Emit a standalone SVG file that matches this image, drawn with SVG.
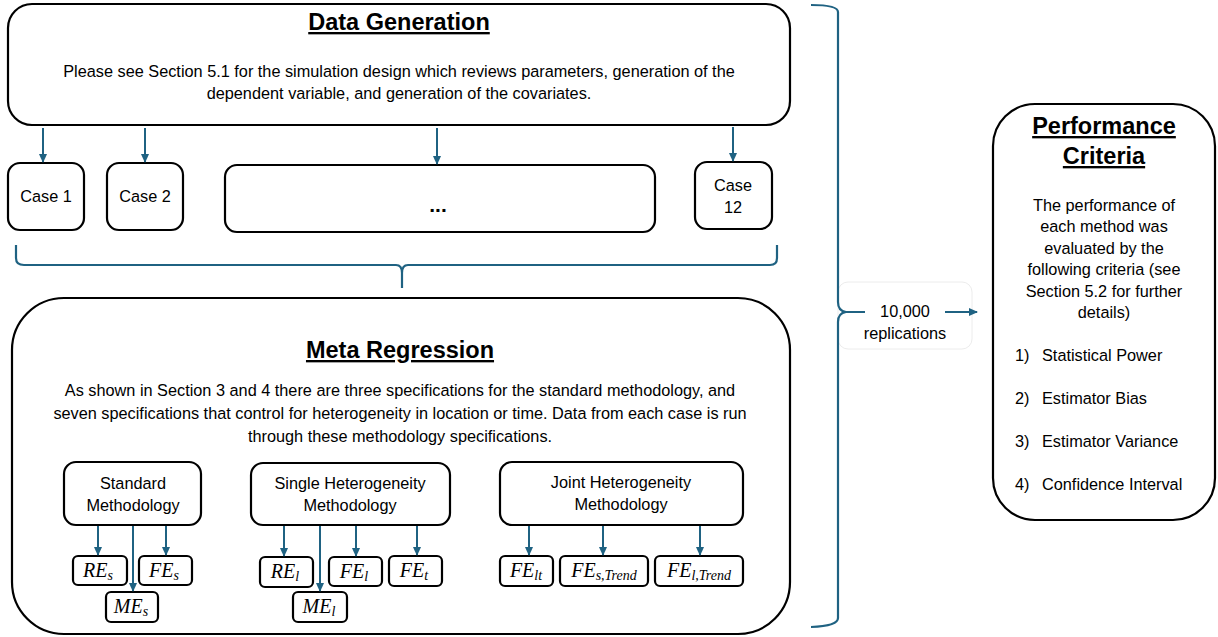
<svg xmlns="http://www.w3.org/2000/svg" width="1218" height="637" viewBox="0 0 1218 637">
<defs>
<style>
.box{fill:#fff;stroke:#000;stroke-width:2.2}
.t{font-family:"Liberation Sans",Arial,sans-serif;font-size:16.3px;fill:#000;text-anchor:middle}
.h{font-family:"Liberation Sans",Arial,sans-serif;font-size:23.5px;font-weight:bold;fill:#000;text-anchor:middle;text-decoration:underline}
.m{font-family:"Liberation Serif","Times New Roman",serif;font-style:italic;font-size:20px;fill:#000;text-anchor:middle}
.sub{font-size:14px}
.c{stroke:#1F6282;stroke-width:2;fill:none}
.br{stroke:#1F6282;stroke-width:2.2;fill:none}
</style>
<marker id="ah" markerWidth="10" markerHeight="10" refX="8" refY="5" orient="auto" markerUnits="userSpaceOnUse">
<path d="M0,1 L9,5 L0,9 z" fill="#1F6282"/>
</marker>
</defs>
<rect width="1218" height="637" fill="#fff"/>

<g id="data-generation">
<rect class="box" x="8" y="4" width="782" height="121" rx="24"/>
<text class="h" x="399" y="30">Data Generation</text>
<text class="t" x="399" y="77">Please see Section 5.1 for the simulation design which reviews parameters, generation of the</text>
<text class="t" x="399" y="99">dependent variable, and generation of the covariates.</text>
</g>

<g id="case1"><rect class="box" x="8" y="163" width="76" height="67" rx="12"/><text class="t" x="46" y="202">Case 1</text></g>
<g id="case2"><rect class="box" x="107" y="163" width="76" height="67" rx="12"/><text class="t" x="145" y="202">Case 2</text></g>
<g id="case-dots"><rect class="box" x="225" y="165" width="430" height="67" rx="12"/><text class="t" x="438" y="212" style="font-size:21px;font-weight:bold">...</text></g>
<g id="case12"><rect class="box" x="695" y="162" width="77" height="67" rx="12"/><text class="t" x="733" y="191">Case</text><text class="t" x="733" y="213">12</text></g>

<g id="meta-regression">
<rect class="box" x="12" y="298" width="778" height="336" rx="52"/>
<text class="h" x="400" y="358">Meta Regression</text>
<text class="t" x="400" y="396">As shown in Section 3 and 4 there are three specifications for the standard methodology, and</text>
<text class="t" x="400" y="419">seven specifications that control for heterogeneity in location or time. Data from each case is run</text>
<text class="t" x="400" y="442">through these methodology specifications.</text>
</g>

<g id="standard"><rect class="box" x="64" y="462" width="137" height="63" rx="12"/><text class="t" x="133" y="489">Standard</text><text class="t" x="133" y="511">Methodology</text></g>
<g id="single"><rect class="box" x="251" y="463" width="199" height="62" rx="12"/><text class="t" x="350" y="489">Single Heterogeneity</text><text class="t" x="350" y="511">Methodology</text></g>
<g id="joint"><rect class="box" x="500" y="462" width="243" height="63" rx="12"/><text class="t" x="621" y="488">Joint Heterogeneity</text><text class="t" x="621" y="510">Methodology</text></g>

<g id="re-s"><rect class="box" x="73" y="556" width="54" height="29" rx="5"/><text class="m" x="98" y="577">RE<tspan class="sub" dy="3">s</tspan></text></g>
<g id="fe-s"><rect class="box" x="139" y="556" width="53" height="29" rx="5"/><text class="m" x="164" y="577">FE<tspan class="sub" dy="3">s</tspan></text></g>
<g id="me-s"><rect class="box" x="106" y="592" width="52" height="30" rx="5"/><text class="m" x="131" y="613">ME<tspan class="sub" dy="3">s</tspan></text></g>

<g id="re-l"><rect class="box" x="260" y="557" width="53" height="30" rx="5"/><text class="m" x="285" y="578">RE<tspan class="sub" dy="3">l</tspan></text></g>
<g id="fe-l"><rect class="box" x="329" y="557" width="53" height="29" rx="5"/><text class="m" x="354" y="578">FE<tspan class="sub" dy="3">l</tspan></text></g>
<g id="fe-t"><rect class="box" x="389" y="556" width="53" height="30" rx="5"/><text class="m" x="414" y="577">FE<tspan class="sub" dy="3">t</tspan></text></g>
<g id="me-l"><rect class="box" x="293" y="592" width="54" height="30" rx="5"/><text class="m" x="319" y="613">ME<tspan class="sub" dy="3">l</tspan></text></g>

<g id="fe-lt"><rect class="box" x="500" y="556" width="53" height="30" rx="5"/><text class="m" x="526" y="577">FE<tspan class="sub" dy="3">lt</tspan></text></g>
<g id="fe-s-trend"><rect class="box" x="560" y="556" width="88" height="30" rx="5"/><text class="m" x="604" y="577">FE<tspan class="sub" dy="3">s,Trend</tspan></text></g>
<g id="fe-l-trend"><rect class="box" x="655" y="556" width="88" height="30" rx="5"/><text class="m" x="699" y="577">FE<tspan class="sub" dy="3">l,Trend</tspan></text></g>

<g id="replications">
<rect x="838" y="282" width="134" height="67" rx="10" fill="#fff" stroke="#ececec" stroke-width="1"/>
<text class="t" x="905" y="317">10,000</text>
<text class="t" x="905" y="339">replications</text>
</g>

<g id="performance-criteria">
<rect class="box" x="993" y="104" width="222" height="416" rx="42"/>
<text class="h" x="1104" y="134">Performance</text>
<text class="h" x="1104" y="164">Criteria</text>
<text class="t" x="1104" y="211">The performance of</text>
<text class="t" x="1104" y="232">each method was</text>
<text class="t" x="1104" y="254">evaluated by the</text>
<text class="t" x="1104" y="275">following criteria (see</text>
<text class="t" x="1104" y="297">Section 5.2 for further</text>
<text class="t" x="1104" y="318">details)</text>
<text class="t" x="1015" y="361" style="text-anchor:start">1)</text><text class="t" x="1042" y="361" style="text-anchor:start">Statistical Power</text>
<text class="t" x="1015" y="404" style="text-anchor:start">2)</text><text class="t" x="1042" y="404" style="text-anchor:start">Estimator Bias</text>
<text class="t" x="1015" y="447" style="text-anchor:start">3)</text><text class="t" x="1042" y="447" style="text-anchor:start">Estimator Variance</text>
<text class="t" x="1015" y="490" style="text-anchor:start">4)</text><text class="t" x="1042" y="490" style="text-anchor:start">Confidence Interval</text>
</g>

<g id="connectors">
<line class="c" x1="43" y1="128" x2="43" y2="162" marker-end="url(#ah)"/>
<line class="c" x1="145" y1="128" x2="145" y2="162" marker-end="url(#ah)"/>
<line class="c" x1="437" y1="128" x2="437" y2="164" marker-end="url(#ah)"/>
<line class="c" x1="733" y1="127" x2="733" y2="161" marker-end="url(#ah)"/>
<path class="br" d="M16,245 L16,258 Q16,265 24,265 L396,265 Q402,265 402,273 L402,288 M402,273 Q402,265 408,265 L770,265 Q777,265 777,258 L777,245"/>
<path class="br" d="M811,5 Q838,5 838,12 L838,302 Q838,311 846,312 L865,312 M846,312 Q838,313 838,322 L838,618 Q838,626 811,627"/>
<line class="c" x1="945" y1="312" x2="977" y2="312" marker-end="url(#ah)"/>
<line class="c" x1="98" y1="526" x2="98" y2="555" marker-end="url(#ah)"/>
<line class="c" x1="133" y1="526" x2="133" y2="591" marker-end="url(#ah)"/>
<line class="c" x1="166" y1="526" x2="166" y2="555" marker-end="url(#ah)"/>
<line class="c" x1="284" y1="526" x2="284" y2="556" marker-end="url(#ah)"/>
<line class="c" x1="320" y1="526" x2="320" y2="591" marker-end="url(#ah)"/>
<line class="c" x1="356" y1="526" x2="356" y2="556" marker-end="url(#ah)"/>
<line class="c" x1="417" y1="526" x2="417" y2="555" marker-end="url(#ah)"/>
<line class="c" x1="529" y1="526" x2="529" y2="555" marker-end="url(#ah)"/>
<line class="c" x1="603" y1="526" x2="603" y2="555" marker-end="url(#ah)"/>
<line class="c" x1="700" y1="526" x2="700" y2="555" marker-end="url(#ah)"/>
</g>
</svg>
